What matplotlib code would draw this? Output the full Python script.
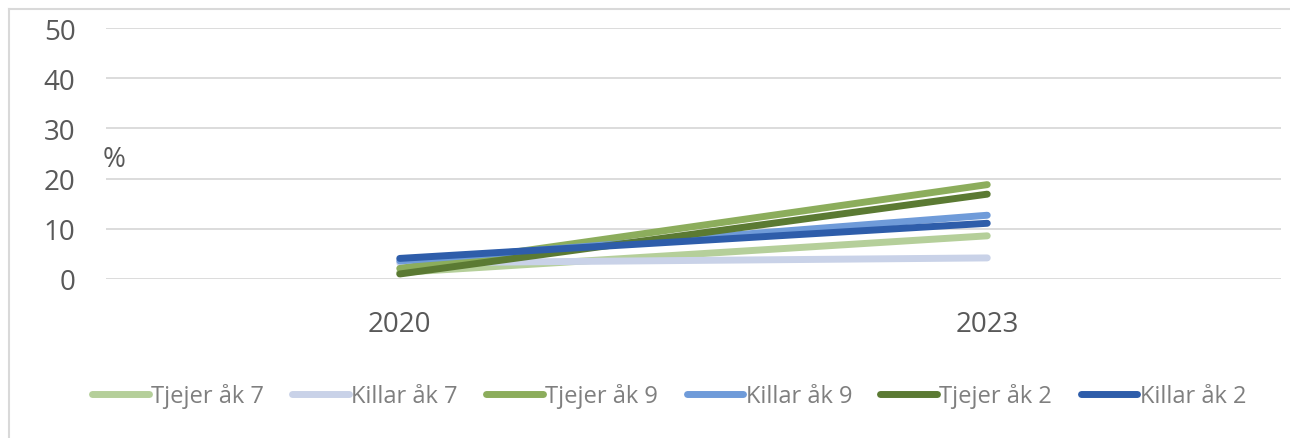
import matplotlib
matplotlib.use("Agg")
import matplotlib.pyplot as plt
from matplotlib.lines import Line2D

years = ["2020", "2023"]
series_names = ["Tjejer åk 7", "Killar åk 7", "Tjejer åk 9", "Killar åk 9", "Tjejer åk 2", "Killar åk 2"]
tjejer_ak7 = [1.3, 8.6]
killar_ak7 = [3.2, 4.2]
tjejer_ak9 = [2.1, 18.8]
killar_ak9 = [3.6, 12.7]
tjejer_ak2 = [1.0, 16.9]
killar_ak2 = [4.1, 11.1]
values = [tjejer_ak7, killar_ak7, tjejer_ak9, killar_ak9, tjejer_ak2, killar_ak2]
colors = ["#B5CF9A", "#C9D2E8", "#8CAD5C", "#6F9BD9", "#5B7A33", "#2E5DAA"]

plt.rcParams['font.family'] = ['Open Sans', 'DejaVu Sans']

fig = plt.figure(figsize=(12.9, 4.39), dpi=100)
W, H = 1290, 439
ax = fig.add_axes([106 / W, 1 - 280 / H, (1281 - 106) / W, (280 - 29) / H])

x = list(range(len(years)))
for name, vals, col in zip(series_names, values, colors):
    ax.plot(x, vals, color=col, lw=5, solid_capstyle='round', label=name)

ax.set_xlim(-0.5, len(years) - 0.5)
ax.set_ylim(0, 50)
ax.set_yticks(range(0, 51, 10))
ax.set_xticks(x)
ax.set_xticklabels(years)
ax.yaxis.grid(True, color="#D9D9D9", lw=1.3)
ax.set_axisbelow(True)
for s in ax.spines.values():
    s.set_visible(False)
ax.tick_params(axis='both', length=0, labelsize=20, colors="#595959")
ax.tick_params(axis='y', pad=22)
ax.tick_params(axis='x', pad=22)

ax.text(-0.003, 0.48, "%", transform=ax.transAxes, fontsize=20, color="#595959",
        ha='left', va='center')

handles = [Line2D([0], [0], color=c, lw=5, solid_capstyle='round') for c in colors]
fig.legend(handles, series_names, loc='center', bbox_to_anchor=(669 / W, 1 - 397 / H),
           ncol=6, frameon=False, fontsize=17, handlelength=2.4, handletextpad=0.1,
           columnspacing=1.2, labelcolor="#7F7F7F")

# chart frame (left and top edge visible)
fig.add_artist(Line2D([9 / W, 9 / W], [0, 1 - 9.5 / H], color="#D9D9D9", lw=1.5,
                      transform=fig.transFigure))
fig.add_artist(Line2D([9 / W, 1], [1 - 9.5 / H, 1 - 9.5 / H], color="#D9D9D9", lw=1.5,
                      transform=fig.transFigure))

fig.savefig("out.png", dpi=100)
